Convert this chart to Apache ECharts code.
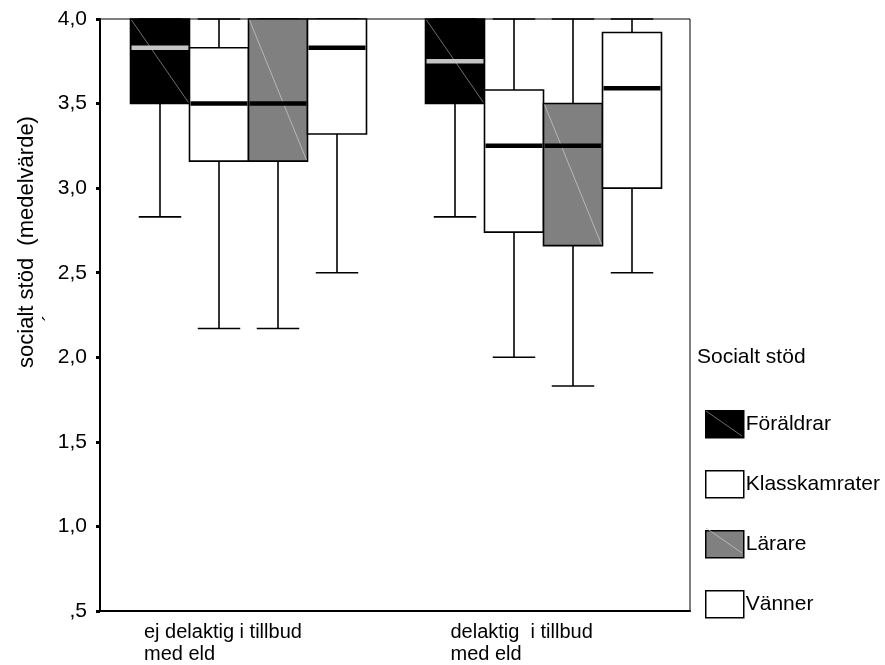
<!DOCTYPE html>
<html><head><meta charset="utf-8">
<script src="https://cdn.jsdelivr.net/npm/echarts@6/dist/echarts.min.js"></script>
<style>html,body{margin:0;padding:0;background:#fff}#chart{width:885px;height:665px}</style>
</head><body><div id="chart"></div>
<script>
// ---- data ----
const categories = ['ej delaktig i tillbud\nmed eld', 'delaktig  i tillbud\nmed eld'];
const seriesNames = ['Föräldrar', 'Klasskamrater', 'Lärare', 'Vänner'];
// each row: [min, q1, median, q3, max] for category 0 and 1
const foraldrar     = [[2.83, 3.50, 3.83, 4.00, 4.00], [2.83, 3.50, 3.75, 4.00, 4.00]];
const klasskamrater = [[2.17, 3.16, 3.50, 3.83, 4.00], [2.00, 2.74, 3.25, 3.58, 4.00]];
const larare        = [[2.17, 3.16, 3.50, 4.00, 4.00], [1.83, 2.66, 3.25, 3.50, 4.00]];
const vanner        = [[2.50, 3.32, 3.83, 4.00, 4.00], [2.50, 3.00, 3.59, 3.92, 4.00]];
const yTickLabels = [',5', '1,0', '1,5', '2,0', '2,5', '3,0', '3,5', '4,0'];
const yAxisTitle = 'socialt stöd  (medelvärde)';
const legendTitle = 'Socialt stöd';

// ---- styles ----
const FONT = "'Liberation Sans', Arial, Helvetica, sans-serif";
const fills = ['#000000', '#ffffff', '#808080', '#ffffff'];
const medianColors = ['#c4c4c4', '#000000', '#000000', '#000000'];
const diagColors = ['#8a8a8a', null, '#c4c4c4', null];
const allData = [foraldrar, klasskamrater, larare, vanner];

function makeRender(sIdx) {
  return function (params, api) {
    const ci = api.value(0);
    const vals = [api.value(1), api.value(2), api.value(3), api.value(4), api.value(5)];
    const ys = vals.map(v => api.coord([ci, v])[1]);
    const cx = api.coord([ci, vals[0]])[0];
    const band = api.size([1, 0])[0];
    const w = band * 0.2;
    const x0 = cx + (sIdx - 2) * w + 1;
    const xm = x0 + w / 2;
    const capW = w * 0.72;
    const lw = 1.6;
    const [yMin, yQ1, yMed, yQ3, yMax] = ys;
    const children = [
      {type: 'line', shape: {x1: xm, y1: yQ1, x2: xm, y2: yMin}, style: {stroke: '#000', lineWidth: lw}},
      {type: 'line', shape: {x1: xm - capW / 2, y1: yMin, x2: xm + capW / 2, y2: yMin}, style: {stroke: '#000', lineWidth: lw}},
      {type: 'line', shape: {x1: xm, y1: yQ3, x2: xm, y2: yMax}, style: {stroke: '#000', lineWidth: lw}},
      {type: 'line', shape: {x1: xm - capW / 2, y1: yMax, x2: xm + capW / 2, y2: yMax}, style: {stroke: '#000', lineWidth: lw}},
      {type: 'rect', shape: {x: x0, y: yQ3, width: w, height: yQ1 - yQ3}, style: {fill: fills[sIdx], stroke: '#000', lineWidth: lw}}
    ];
    if (diagColors[sIdx]) {
      children.push({type: 'line', shape: {x1: x0 + 1, y1: yQ3 + 1, x2: x0 + w - 1, y2: yQ1 - 1}, style: {stroke: diagColors[sIdx], lineWidth: 0.8}});
    }
    children.push({type: 'line', shape: {x1: x0 + 1, y1: yMed, x2: x0 + w - 1, y2: yMed}, style: {stroke: medianColors[sIdx], lineWidth: 4.5}});
    return {type: 'group', children: children};
  };
}

const series = seriesNames.map((name, s) => ({
  name: name,
  type: 'custom',
  renderItem: makeRender(s),
  encode: {x: 0, y: [1, 2, 3, 4, 5]},
  itemStyle: {color: fills[s], borderColor: '#000', borderWidth: 1.5},
  data: allData[s].map((row, i) => [i].concat(row)),
  z: 3
}));

const LEG_X = 705, LEG_TOP = 410, LEG_W = 38, LEG_H = 27, LEG_GAP = 31.5;
const legendDiags = [];
diagColors.forEach((c, s) => {
  if (!c) return;
  const top = LEG_TOP + s * (LEG_H + LEG_GAP);
  legendDiags.push({type: 'line', z: 100, silent: true,
    shape: {x1: LEG_X + 1, y1: top + 1, x2: LEG_X + LEG_W - 1, y2: top + LEG_H - 1},
    style: {stroke: c, lineWidth: 0.8}});
});

const chart = echarts.init(document.getElementById('chart'), null, {renderer: 'canvas'});
chart.setOption({
  animation: false,
  backgroundColor: '#fff',
  grid: {left: 100, right: 195, top: 19, bottom: 52, show: true, borderColor: '#000', borderWidth: 1, backgroundColor: 'transparent'},
  xAxis: {
    type: 'category',
    data: categories,
    axisLine: {lineStyle: {color: '#000', width: 2}},
    axisTick: {alignWithLabel: true, length: 4, lineStyle: {color: '#000', width: 3}},
    axisLabel: {
      margin: 10,
      color: '#000',
      fontFamily: FONT,
      fontSize: 20,
      lineHeight: 22,
      formatter: function (v, i) {
        const key = i === 0 ? 'a' : 'b';
        return v.split('\n').map(t => '{' + key + '|' + t + '}').join('\n');
      },
      rich: {
        a: {width: 207, align: 'left', fontFamily: FONT, fontSize: 20, lineHeight: 22, color: '#000'},
        b: {width: 184, align: 'left', fontFamily: FONT, fontSize: 20, lineHeight: 22, color: '#000'}
      }
    },
    splitLine: {show: false}
  },
  yAxis: {
    type: 'value',
    min: 0.5, max: 4.0, interval: 0.5,
    axisLine: {show: true, lineStyle: {color: '#000', width: 2}},
    axisTick: {show: true, length: 4, lineStyle: {color: '#000', width: 3}},
    axisLabel: {
      margin: 13, color: '#000', fontFamily: FONT, fontSize: 21,
      formatter: function (v) { return yTickLabels[Math.round((v - 0.5) / 0.5)]; }
    },
    splitLine: {show: false}
  },
  legend: {
    orient: 'vertical',
    left: LEG_X, top: LEG_TOP,
    padding: 0,
    itemWidth: LEG_W, itemHeight: LEG_H, itemGap: LEG_GAP,
    icon: 'rect',
    itemStyle: {borderColor: '#000', borderWidth: 1.5},
    textStyle: {color: '#000', fontFamily: FONT, fontSize: 21, padding: [0, 0, 0, -3]},
    data: seriesNames,
    selectedMode: false
  },
  graphic: [
    {type: 'text', x: 27, y: 242, rotation: Math.PI / 2,
      style: {text: yAxisTitle, fill: '#000', font: '22px ' + FONT, textAlign: 'center', textVerticalAlign: 'middle'}},
    {type: 'text', x: 51, y: 318, rotation: Math.PI / 2,
      style: {text: '´', fill: '#000', font: '21px ' + FONT, textAlign: 'center', textVerticalAlign: 'middle'}},
    {type: 'text', x: 697, y: 357,
      style: {text: legendTitle, fill: '#000', font: '21px ' + FONT, textAlign: 'left', textVerticalAlign: 'middle'}}
  ].concat(legendDiags),
  series: series
});
</script>
</body></html>
